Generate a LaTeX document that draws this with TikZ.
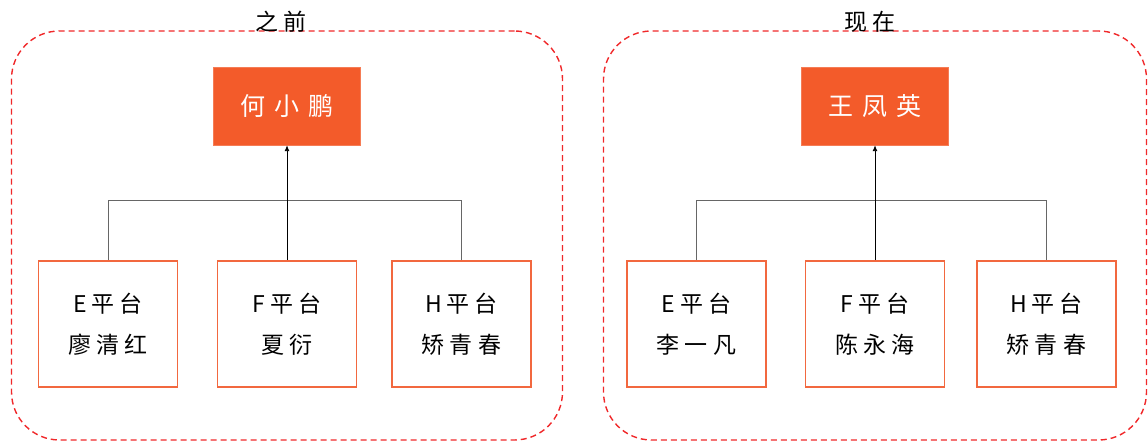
\documentclass[tikz,border=0pt]{standalone}
\usepackage{fontspec}
\setmainfont{Noto Sans CJK SC}
\newfontfamily\spacedA[LetterSpace=22]{Noto Sans CJK SC}
\newfontfamily\spacedB[LetterSpace=35]{Noto Sans CJK SC}
\usetikzlibrary{arrows.meta}
\definecolor{boss}{HTML}{F35B2A}
\definecolor{edge}{HTML}{F2683F}
\definecolor{dash}{HTML}{F0282A}
\tikzset{
  panel/.style={draw=dash, line width=1.4pt, dash pattern=on 6pt off 4pt, rounded corners=48pt, minimum width=#1, minimum height=409pt, inner sep=0pt},
  title/.style={font=\spacedA\fontsize{23}{26}\selectfont, text=black, inner sep=0pt},
  bossbox/.style={fill=boss, draw=boss!80!white, minimum width=147pt, minimum height=78pt, text=white, font=\spacedB\fontsize{25}{30}\selectfont, inner sep=0pt},
  childbox/.style={draw=edge, line width=1.6pt, fill=white, minimum width=139pt, minimum height=126pt, align=center, font=\spacedA\fontsize{23}{41}\selectfont, inner sep=0pt},
  link/.style={draw=black!60, line width=0.9pt},
  arr/.style={draw=black, line width=0.9pt, -{Latex[length=6pt,width=5pt]}}
}
\begin{document}
\begin{tikzpicture}[x=1pt,y=-1pt]
\useasboundingbox (0,0) rectangle (1148,443);
% left panel
\node[panel=551pt] (pL) at (287,235.5) {};
\node[title] (tL) at (281,22) {之前};
\node[bossbox] (bL) at (287,106) {何小鹏};
\node[childbox] (eL) at (108,324) {E平台\\廖清红};
\node[childbox] (fL) at (287,324) {F平台\\夏衍};
\node[childbox] (hL) at (461.5,324) {H平台\\矫青春};
\coordinate (jL) at (287,200);
\draw[link] (eL.north) |- (jL);
\draw[link] (hL.north) |- (jL);
\draw[arr] (fL.north) -- (bL.south);
% right panel
\node[panel=543pt] (pR) at (875,235.5) {};
\node[title] (tR) at (870,22) {现在};
\node[bossbox] (bR) at (875,106) {王凤英};
\node[childbox] (eR) at (696.5,324) {E平台\\李一凡};
\node[childbox] (fR) at (875,324) {F平台\\陈永海};
\node[childbox] (hR) at (1046.5,324) {H平台\\矫青春};
\coordinate (jR) at (875,200);
\draw[link] (eR.north) |- (jR);
\draw[link] (hR.north) |- (jR);
\draw[arr] (fR.north) -- (bR.south);
\end{tikzpicture}
\end{document}
